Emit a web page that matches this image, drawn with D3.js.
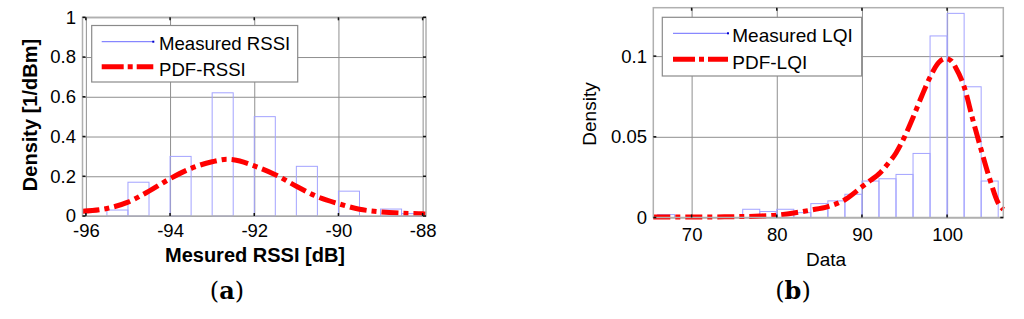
<!DOCTYPE html>
<html>
<head>
<meta charset="utf-8">
<script src="https://cdn.jsdelivr.net/npm/d3@7/dist/d3.min.js"></script>
<style>
  html, body { margin: 0; padding: 0; background: #fff; }
  svg { display: block; }
</style>
</head>
<body>
<div id="chart"></div>
<script>
// ---- (a) RSSI ----
const rssiBins = [-96, -95.5, -95, -94.5, -94, -93.5, -93, -92.5, -92, -91.5, -91, -90.5, -90, -89.5, -89, -88.5];
const rssiDensity = [0, 0.03, 0.17, 0, 0.30, 0, 0.62, 0, 0.50, 0, 0.25, 0, 0.125, 0, 0.035, 0.012];
const rssiPdfX = [-96.08, -95.5, -95, -94.5, -94, -93.5, -93, -92.65, -92.5, -92, -91.5, -91, -90.5, -90, -89.5, -89, -88.5, -88, -87.92];
const rssiPdfY = [0.024, 0.038, 0.07, 0.125, 0.188, 0.24, 0.273, 0.285, 0.283, 0.252, 0.208, 0.15, 0.097, 0.062, 0.034, 0.021, 0.014, 0.011, 0.01];
const rssiTicksX = [-96, -94, -92, -90, -88];
const rssiTicksY = [0, 0.2, 0.4, 0.6, 0.8, 1];

// ---- (b) LQI ----
const lqiBins = [66, 68, 70, 72, 74, 76, 78, 80, 82, 84, 86, 88, 90, 92, 94, 96, 98, 100, 102, 104];
const lqiDensity = [0.0018, 0, 0, 0, 0, 0.0051, 0.0037, 0.0051, 0.003, 0.0086, 0.0103, 0.0144, 0.0226, 0.024, 0.0267, 0.0397, 0.1125, 0.1265, 0.081, 0.0226];
const lqiPdfX = [65.5, 68, 70, 72, 74, 76, 78, 80, 82, 84, 86, 88, 90, 91, 92, 93, 94, 95, 96, 97, 98, 99, 99.8, 100.5, 101, 102, 103, 104, 105, 106, 106.6];
const lqiPdfY = [0.0003, 0.0003, 0.0003, 0.0003, 0.0004, 0.0006, 0.0009, 0.0015, 0.0028, 0.0046, 0.0068, 0.011, 0.019, 0.023, 0.027, 0.033, 0.040, 0.050, 0.062, 0.075, 0.087, 0.096, 0.0985, 0.097, 0.093, 0.081, 0.061, 0.042, 0.024, 0.009, 0.005];
const lqiTicksX = [70, 80, 90, 100];
const lqiTicksY = [0, 0.05, 0.1];

const width = 1024;
const height = 319;
const sansFont = "'Liberation Sans', Arial, sans-serif";
const labelSize = 18.5;

const svg = d3.select("#chart")
    .append("svg")
    .attr("width", width)
    .attr("height", height)
    .attr("viewBox", `0 0 ${width} ${height}`);

// plain hyphen for negatives, like the original figure
const fmt = d => String(d);

function renderPanel(cfg) {
    const x = d3.scaleLinear().domain(cfg.xDomain).range(cfg.xRange);
    const y = d3.scaleLinear().domain(cfg.yDomain).range(cfg.yRange);
    const [x0, x1] = cfg.xRange;
    const [y0, y1] = cfg.yRange; // y0 = bottom, y1 = top
    const g = svg.append("g");

    // grid
    g.append("g")
        .attr("transform", `translate(0,${y0})`)
        .call(d3.axisBottom(x).tickValues(cfg.ticksX).tickSize(-(y0 - y1)).tickFormat(""))
        .call(s => s.select(".domain").remove())
        .selectAll("line")
        .attr("stroke", "#8f8f8f")
        .attr("stroke-width", 1);

    g.append("g")
        .attr("transform", `translate(${x0},0)`)
        .call(d3.axisLeft(y).tickValues(cfg.ticksY).tickSize(-(x1 - x0)).tickFormat(""))
        .call(s => s.select(".domain").remove())
        .selectAll("line")
        .attr("stroke", "#8f8f8f")
        .attr("stroke-width", 1);

    // histogram bars
    g.selectAll(".bar")
        .data(cfg.bins.map((b, i) => ({ edge: b, value: cfg.density[i] })))
        .enter()
        .append("rect")
        .attr("class", "bar")
        .attr("x", d => x(d.edge))
        .attr("width", d => x(d.edge + cfg.binWidth) - x(d.edge))
        .attr("y", d => y(d.value))
        .attr("height", d => y0 - y(d.value))
        .attr("fill", "none")
        .attr("stroke", "#a3a3ff")
        .attr("stroke-width", 1);

    // pdf curve
    const line = d3.line()
        .x(d => x(d[0]))
        .y(d => y(d[1]))
        .curve(d3.curveMonotoneX);

    g.append("path")
        .datum(cfg.pdfX.map((v, i) => [v, cfg.pdfY[i]]))
        .attr("fill", "none")
        .attr("stroke", "#ff0000")
        .attr("stroke-width", 5)
        .attr("stroke-dasharray", "17,5,5,5")
        .attr("d", line);

    // axes box
    g.append("rect")
        .attr("x", x0)
        .attr("y", y1)
        .attr("width", x1 - x0)
        .attr("height", y0 - y1)
        .attr("fill", "none")
        .attr("stroke", "#b0b0b0")
        .attr("stroke-width", 1.5);

    // inward tick marks
    const tk = 3;
    const marks = g.append("g").attr("stroke", "#111").attr("stroke-width", 1.5);
    cfg.ticksX.forEach(t => {
        marks.append("line").attr("x1", x(t)).attr("x2", x(t)).attr("y1", y0).attr("y2", y0 - tk);
        marks.append("line").attr("x1", x(t)).attr("x2", x(t)).attr("y1", y1).attr("y2", y1 + tk);
    });
    cfg.ticksY.forEach(t => {
        marks.append("line").attr("x1", x0).attr("x2", x0 + tk).attr("y1", y(t)).attr("y2", y(t));
        marks.append("line").attr("x1", x1).attr("x2", x1 - tk).attr("y1", y(t)).attr("y2", y(t));
    });

    // tick labels
    g.append("g")
        .attr("transform", `translate(0,${y0})`)
        .call(d3.axisBottom(x).tickValues(cfg.ticksX).tickSize(0).tickPadding(cfg.xPad).tickFormat(fmt))
        .call(s => s.select(".domain").remove())
        .selectAll("text")
        .attr("fill", "#000")
        .style("font-size", labelSize + "px")
        .style("font-family", sansFont);

    g.append("g")
        .attr("transform", `translate(${x0},0)`)
        .call(d3.axisLeft(y).tickValues(cfg.ticksY).tickSize(0).tickPadding(cfg.yPad).tickFormat(fmt))
        .call(s => s.select(".domain").remove())
        .selectAll("text")
        .attr("fill", "#000")
        .style("font-size", labelSize + "px")
        .style("font-family", sansFont);

    // legend
    const lg = cfg.legend;
    g.append("rect")
        .attr("x", lg.x)
        .attr("y", lg.y)
        .attr("width", lg.w)
        .attr("height", lg.h)
        .attr("fill", "#fff")
        .attr("stroke", "#8a8a8a")
        .attr("stroke-width", 1.2);

    g.append("line")
        .attr("x1", lg.lineX1).attr("x2", lg.lineX2)
        .attr("y1", lg.row1Line).attr("y2", lg.row1Line)
        .attr("stroke", "#6b6bff")
        .attr("stroke-width", 1);
    g.append("rect")
        .attr("x", lg.lineX2 - 1).attr("y", lg.row1Line - 1)
        .attr("width", 2).attr("height", 2)
        .attr("fill", "#0000cc");

    g.append("line")
        .attr("x1", lg.lineX1).attr("x2", lg.lineX2)
        .attr("y1", lg.row2Line).attr("y2", lg.row2Line)
        .attr("stroke", "#ff0000")
        .attr("stroke-width", 5)
        .attr("stroke-dasharray", "22,4,5,4");

    g.append("text")
        .attr("x", lg.textX).attr("y", lg.row1Text)
        .style("font-size", lg.size + "px").style("font-family", sansFont)
        .text(cfg.labels[0]);
    g.append("text")
        .attr("x", lg.textX).attr("y", lg.row2Text)
        .style("font-size", lg.size + "px").style("font-family", sansFont)
        .text(cfg.labels[1]);

    // axis titles
    g.append("text")
        .attr("x", cfg.xTitle.x).attr("y", cfg.xTitle.y)
        .attr("text-anchor", "middle")
        .style("font-size", cfg.titleSize + "px")
        .style("font-weight", cfg.titleWeight)
        .style("font-family", sansFont)
        .text(cfg.xTitle.text);

    g.append("text")
        .attr("transform", `translate(${cfg.yTitle.x},${cfg.yTitle.y}) rotate(-90)`)
        .attr("text-anchor", "middle")
        .style("font-size", cfg.titleSize + "px")
        .style("font-weight", cfg.titleWeight)
        .style("font-family", sansFont)
        .text(cfg.yTitle.text);

    // panel letter
    const cap = g.append("text")
        .attr("x", cfg.caption.x).attr("y", cfg.caption.y)
        .attr("text-anchor", "middle")
        .style("font-size", "24px")
        .style("font-family", "'DejaVu Serif', 'Liberation Serif', serif");
    cap.append("tspan").text("(");
    cap.append("tspan").style("font-weight", "bold").text(cfg.caption.letter);
    cap.append("tspan").text(")");
}

renderPanel({
    xDomain: [-96.08, -87.92], xRange: [82.5, 426],
    yDomain: [0, 1], yRange: [216, 17.3],
    ticksX: rssiTicksX, ticksY: rssiTicksY,
    bins: rssiBins, binWidth: 0.5, density: rssiDensity,
    pdfX: rssiPdfX, pdfY: rssiPdfY,
    xPad: 8, yPad: 6.5,
    labels: ["Measured RSSI", "PDF-RSSI"],
    legend: { x: 91.7, y: 25.5, w: 206, h: 56.5, lineX1: 101.7, lineX2: 153.3, row1Line: 41.7, row2Line: 66.7, textX: 159, row1Text: 49.5, row2Text: 76, size: 18.6 },
    titleSize: 20, titleWeight: "bold",
    xTitle: { x: 255, y: 262, text: "Mesured RSSI [dB]" },
    yTitle: { x: 36.5, y: 115, text: "Density [1/dBm]" },
    caption: { x: 227, y: 299, letter: "a" }
});

renderPanel({
    xDomain: [65.5, 106.6], xRange: [653.3, 1003.3],
    yDomain: [0, 0.13], yRange: [217.5, 7.7],
    ticksX: lqiTicksX, ticksY: lqiTicksY,
    bins: lqiBins, binWidth: 2, density: lqiDensity,
    pdfX: lqiPdfX, pdfY: lqiPdfY,
    xPad: 10.5, yPad: 6.3,
    labels: ["Measured LQI", "PDF-LQI"],
    legend: { x: 662.3, y: 17.3, w: 199.4, h: 58.7, lineX1: 673, lineX2: 728, row1Line: 33.3, row2Line: 59.3, textX: 732.3, row1Text: 42.3, row2Text: 69.3, size: 19 },
    titleSize: 19, titleWeight: "normal",
    xTitle: { x: 826, y: 265.5, text: "Data" },
    yTitle: { x: 596, y: 114, text: "Density" },
    caption: { x: 793, y: 299, letter: "b" }
});
</script>
</body>
</html>
